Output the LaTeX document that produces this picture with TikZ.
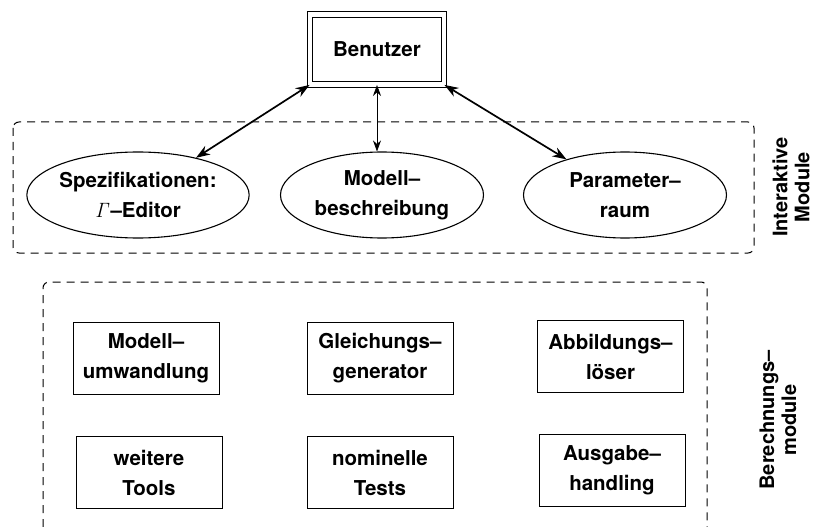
\documentclass[tikz,border=0pt]{standalone}
\usepackage[no-math]{fontspec}
\setmainfont{TeX Gyre Heros}
\usetikzlibrary{arrows.meta,shapes.geometric}
\begin{document}
\begin{tikzpicture}[x=1pt,y=-1pt,
  lbl/.style={font=\fontsize{20.5}{30}\bfseries\selectfont, align=center},
  ell/.style={lbl, draw, ellipse, line width=1.1pt, minimum width=203pt, minimum height=86pt, inner sep=0pt},
  modbox/.style={lbl, draw, rectangle, line width=0.9pt, minimum width=146pt, minimum height=72pt, inner sep=0pt},
  grp/.style={draw, line width=1pt, dash pattern=on 8pt off 6pt, rounded corners=6pt},
  side/.style={font=\fontsize{20}{22}\bfseries\selectfont, align=center, rotate=90},
  bigarr/.style={line width=1.7pt, {Stealth[length=14pt,width=10pt]}-{Stealth[length=14pt,width=10pt]}},
  smallarr/.style={line width=0.8pt, {Stealth[length=11pt,width=8pt]}-{Stealth[length=11pt,width=8pt]}}
]
\useasboundingbox (0,0) rectangle (815,527);

% user
\node[lbl, draw, double, double distance=4.5pt, line width=0.9pt, minimum width=134pt, minimum height=70pt] (benutzer) at (377,49.5) {Benutzer};

% interactive group
\draw[grp] (13,122) rectangle (754,253);
\node[ell] (spez) at (138,195) {Spezifikationen:\\$\mathit{\Gamma}$--Editor};
\node[ell] (modell) at (382,195) {Modell--\\beschreibung};
\node[ell] (param) at (625,195) {Parameter--\\raum};
\node[side] (inter) at (791,187) {Interaktive\\Module};

\draw[bigarr] (benutzer.south west) -- (spez);
\draw[bigarr] (benutzer.south east) -- (param);
\draw[smallarr] (benutzer.south) -- (benutzer.south |- modell.north);

% computation group
\draw[grp] (43,527) -- (43,282) -- (707,282) -- (707,527);
\node[side] (berech) at (778,420) {Berechnungs--\\module};

\node[modbox] (umw) at (146,358) {Modell--\\umwandlung};
\node[modbox] (gleich) at (380,358) {Gleichungs--\\generator};
\node[modbox] (abb) at (610.5,356.5) {Abbildungs--\\löser};
\node[modbox] (tools) at (149,472.5) {weitere\\Tools};
\node[modbox] (tests) at (380,472.5) {nominelle\\Tests};
\node[modbox] (ausg) at (612,470.5) {Ausgabe--\\handling};
\end{tikzpicture}
\end{document}
